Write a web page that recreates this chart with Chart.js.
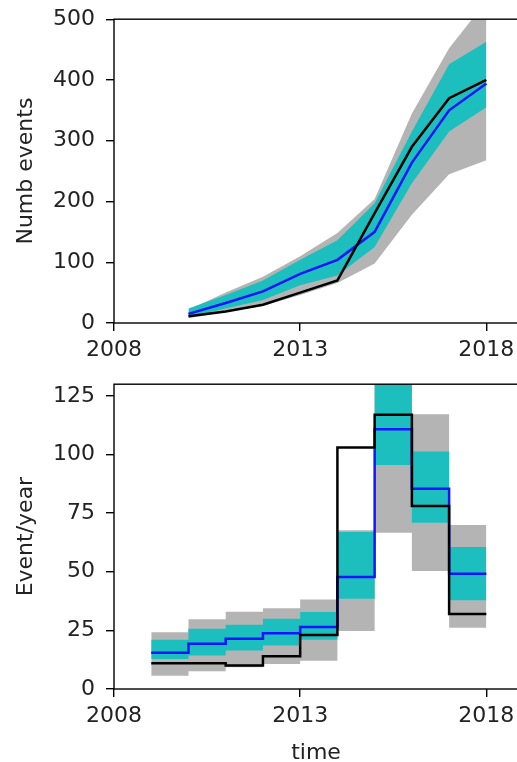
<!DOCTYPE html>
<html>
<head>
<meta charset="utf-8">
<script src="https://cdn.jsdelivr.net/npm/chart.js@4.4.1/dist/chart.umd.min.js"></script>
<style>
  html, body { margin: 0; padding: 0; background: #fff; }
  #wrap { position: relative; width: 517px; height: 762px; overflow: hidden; }
  canvas { position: absolute; left: 0; }
  #top { top: -5px; }
  #bottom { top: 360px; }
</style>
</head>
<body>
<div id="wrap">
  <canvas id="top" width="540" height="365"></canvas>
  <canvas id="bottom" width="540" height="406"></canvas>
</div>
<script>
// cumulative number of events (top panel)
const cumYears = [2010, 2011, 2012, 2013, 2014, 2015, 2016, 2017, 2018];
const cumObserved = [11, 19, 30, 50, 70, 181, 290, 370, 400];
const cumMedian = [15, 33, 52, 81, 104, 150, 264, 350, 394];
const cumGrayLow = [8, 18, 28, 46, 66, 98, 178, 245, 268];
const cumGrayHigh = [22, 50, 76, 110, 148, 204, 345, 452, 530];
const cumCyanLow = [10, 24, 38, 62, 78, 125, 230, 315, 355];
const cumCyanHigh = [24, 46, 70, 104, 136, 197, 315, 426, 463];

// events per year (bottom panel), one value per bin starting at binStart
const binStart = [2009, 2010, 2011, 2012, 2013, 2014, 2015, 2016, 2017];
const binEnd = 2018;
const rateObserved = [11, 11, 10, 14, 23, 103, 117, 78, 32];
const rateMedian = [15.5, 19.3, 21.4, 23.8, 26.4, 47.8, 110.8, 85.4, 49.2];
const rateGrayLow = [5.7, 7.6, 9.3, 10.7, 12.1, 24.7, 66.6, 50.3, 26.1];
const rateGrayHigh = [24.2, 29.8, 32.9, 34.4, 38.2, 67.7, 135, 117.2, 69.9];
const rateCyanLow = [12.8, 14.3, 16.4, 18.5, 21, 38.5, 95.5, 70.9, 37.8];
const rateCyanHigh = [21, 25.7, 27.4, 30, 32.8, 67, 132, 101.3, 60.6];

const xTicks = [2008, 2013, 2018];

const GRAY = '#b4b4b4';
const CYAN = '#1cbebe';
const BLUE = '#1414ff';
const FONT = { family: 'DejaVu Sans', size: 22 };

Chart.defaults.font.family = 'DejaVu Sans';
Chart.defaults.color = '#222';

function pts(xs, ys) {
  return xs.map((x, i) => ({ x: x, y: ys[i] }));
}

function stepPts(vals) {
  const xs = binStart.concat([binEnd]);
  const ys = vals.concat([vals[vals.length - 1]]);
  return pts(xs, ys);
}

const frame = {
  id: 'frame',
  afterDatasetsDraw(chart) {
    const a = chart.chartArea;
    const ctx = chart.ctx;
    ctx.save();
    ctx.strokeStyle = '#000';
    ctx.lineWidth = 1.4;
    ctx.strokeRect(a.left, a.top, a.right - a.left, a.bottom - a.top);
    ctx.restore();
  }
};

function lineSet(data, color, width, stepped) {
  return { data: data, borderColor: color, borderWidth: width, pointRadius: 0,
    fill: false, tension: 0, stepped: stepped };
}

function bandSet(data, color, stepped, isTop) {
  return { data: data, borderColor: 'rgba(0,0,0,0)', borderWidth: 0, pointRadius: 0,
    backgroundColor: color, fill: isTop ? '+1' : false, tension: 0, stepped: stepped };
}

function makeOptions(yMax, yStep, yTitle, xTitle, padTop, xHeight) {
  return {
    responsive: false,
    animation: false,
    devicePixelRatio: 1,
    layout: { padding: { top: padTop, right: 22, left: 0, bottom: 0 } },
    plugins: { legend: { display: false }, tooltip: { enabled: false } },
    scales: {
      x: {
        type: 'linear', min: 2008, max: 2018.85,
        afterBuildTicks: s => { s.ticks = xTicks.map(v => ({ value: v })); },
        afterFit: s => { s.height = xHeight; },
        ticks: { font: FONT, color: '#222', padding: 6, maxRotation: 0,
          callback: v => String(v) },
        grid: { drawOnChartArea: false, drawTicks: true, tickLength: 8,
          color: '#000', lineWidth: 1.4 },
        border: { display: false },
        title: { display: !!xTitle, text: xTitle || '', font: FONT, color: '#222',
          padding: { top: 0, bottom: 0 } }
      },
      y: {
        min: 0, max: yMax,
        afterFit: s => { s.width = 114; },
        ticks: { stepSize: yStep, includeBounds: false, font: FONT, color: '#222', padding: 11 },
        grid: { drawOnChartArea: false, drawTicks: true, tickLength: 8,
          color: '#000', lineWidth: 1.4 },
        border: { display: false },
        title: { display: true, text: yTitle, font: FONT, color: '#222',
          padding: { top: 13, bottom: 0 } }
      }
    }
  };
}

new Chart(document.getElementById('top'), {
  type: 'line',
  data: {
    datasets: [
      lineSet(pts(cumYears, cumObserved), '#000', 2.5, false),
      lineSet(pts(cumYears, cumMedian), BLUE, 2.5, false),
      bandSet(pts(cumYears, cumCyanHigh), CYAN, false, true),
      bandSet(pts(cumYears, cumCyanLow), CYAN, false, false),
      bandSet(pts(cumYears, cumGrayHigh), GRAY, false, true),
      bandSet(pts(cumYears, cumGrayLow), GRAY, false, false)
    ]
  },
  options: makeOptions(500, 100, 'Numb events', null, 14, 37),
  plugins: [frame]
});

new Chart(document.getElementById('bottom'), {
  type: 'line',
  data: {
    datasets: [
      lineSet(stepPts(rateObserved), '#000', 2.5, true),
      lineSet(stepPts(rateMedian), BLUE, 2.5, true),
      bandSet(stepPts(rateCyanHigh), CYAN, true, true),
      bandSet(stepPts(rateCyanLow), CYAN, true, false),
      bandSet(stepPts(rateGrayHigh), GRAY, true, true),
      bandSet(stepPts(rateGrayLow), GRAY, true, false)
    ]
  },
  options: makeOptions(130, 25, 'Event/year', 'time', 24, 77),
  plugins: [frame]
});
</script>
</body>
</html>
